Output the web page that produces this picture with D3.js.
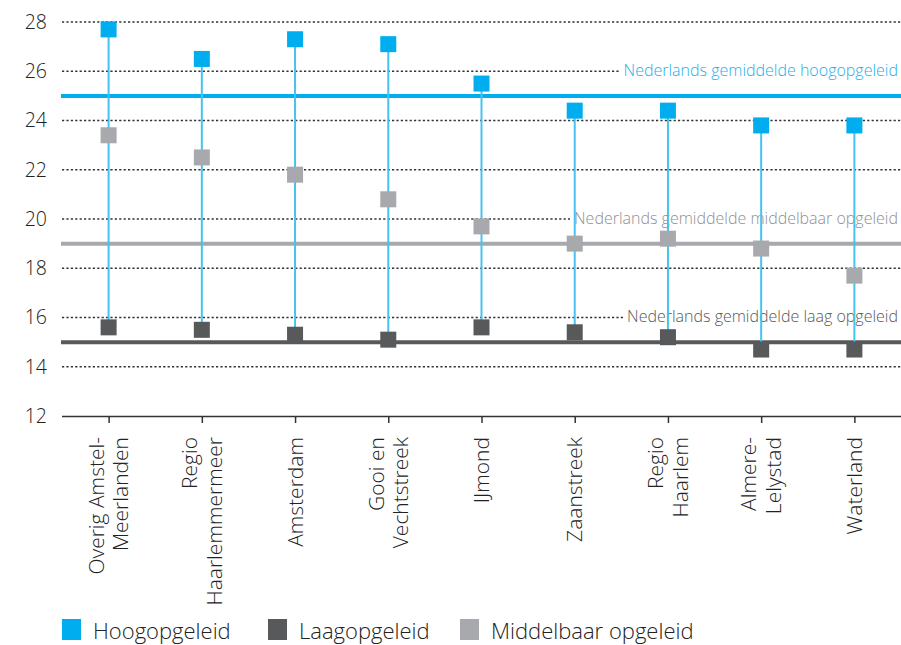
<!DOCTYPE html>
<html><head><meta charset="utf-8">
<script src="https://cdn.jsdelivr.net/npm/d3@7"></script>
<style>
body{margin:0;background:#fff;}
text{font-family:"Open Sans",Lato,sans-serif;font-weight:300;}
</style></head>
<body><svg id="c" width="901" height="645"></svg>
<script>
const categories = [["Overig Amstel-","Meerlanden"],["Regio","Haarlemmermeer"],["Amsterdam"],["Gooi en","Vechtstreek"],["IJmond"],["Zaanstreek"],["Regio","Haarlem"],["Almere-","Lelystad"],["Waterland"]];
const hoog = [27.7, 26.5, 27.3, 27.1, 25.5, 24.4, 24.4, 23.8, 23.8];
const middel = [23.4, 22.5, 21.8, 20.8, 19.7, 19.0, 19.2, 18.8, 17.7];
const laag = [15.6, 15.5, 15.3, 15.1, 15.6, 15.4, 15.2, 14.7, 14.7];
const averages = [
  {name:"Nederlands gemiddelde hoogopgeleid", value:25, labelAt:26, color:"#00AEEF", textColor:"#1AB0EA"},
  {name:"Nederlands gemiddelde middelbaar opgeleid", value:19, labelAt:20, color:"#A7A9AC", textColor:"#8E9093"},
  {name:"Nederlands gemiddelde laag opgeleid", value:15, labelAt:16, color:"#58595B", textColor:"#58595B"}
];
const yTicks = [12,14,16,18,20,22,24,26,28];
const legendItems = [{name:"Hoogopgeleid",color:"#00AEEF"},{name:"Laagopgeleid",color:"#58595B"},{name:"Middelbaar opgeleid",color:"#A7A9AC"}];

const svg = d3.select("#c");
const mLeft = 62, mRight = 901, mTop = 22, mBottom = 416;
const x = d3.scalePoint().domain(d3.range(categories.length)).range([mLeft, mRight]).padding(0.5);
const y = d3.scaleLinear().domain([12, 28]).range([mBottom, mTop]);

// grid
svg.append("g").selectAll("line").data(yTicks.filter(d=>d>12)).join("line")
  .attr("x1", mLeft).attr("x2", mRight).attr("y1", d=>y(d)).attr("y2", d=>y(d))
  .attr("stroke", "#333").attr("stroke-width", 1.3).attr("stroke-dasharray", "2.2,2.2");

// y labels
svg.append("g").selectAll("text").data(yTicks).join("text")
  .attr("x", 47).attr("y", d=>y(d)).attr("dy", "0.35em").attr("text-anchor","end")
  .attr("font-size", 19.5).attr("fill", "#222").text(d=>d);

// x axis
const xAxis = svg.append("g").attr("transform", `translate(0,${mBottom})`)
  .call(d3.axisBottom(x).tickSize(7).tickFormat(""));
xAxis.select(".domain").attr("d", `M${mLeft},0.5H${mRight}`).attr("stroke","#333").attr("stroke-width",1.5);
xAxis.selectAll(".tick line").attr("stroke","#333").attr("stroke-width",1.5);

// x labels
categories.forEach((lines, i) => {
  const n = lines.length;
  const g = svg.append("g").attr("transform", `translate(${x(i)},${mBottom+21}) rotate(-90)`);
  lines.forEach((t, j) => {
    const off = (j - (n-1)/2) * 24.5;
    g.append("text").attr("x", 0).attr("y", off).attr("dy", "0.36em")
      .attr("text-anchor","end").attr("font-size", 21).attr("fill","#222").text(t);
  });
});

// average lines
svg.append("g").selectAll("line").data(averages).join("line")
  .attr("x1", mLeft - 1).attr("x2", mRight).attr("y1", d=>y(d.value)).attr("y2", d=>y(d.value))
  .attr("stroke", d=>d.color).attr("stroke-width", 4);

// average labels with white background
const lab = svg.append("g").selectAll("g").data(averages).join("g");
lab.append("text").attr("x", 898).attr("y", d=>y(d.labelAt)).attr("dy","0.3em")
  .attr("text-anchor","end").attr("font-size", 16).attr("fill", d=>d.textColor)
  .text(d=>d.name)
  .each(function(){
    const b = this.getBBox();
    d3.select(this.parentNode).insert("rect","text").attr("x", b.x-4).attr("y", b.y+3).attr("width", b.width+8).attr("height", b.height-6).attr("fill","#fff");
  });

// stems
svg.append("g").selectAll("line").data(d3.range(categories.length)).join("line")
  .attr("x1", i=>x(i)).attr("x2", i=>x(i)).attr("y1", i=>y(hoog[i])).attr("y2", i=>y(laag[i]))
  .attr("stroke", "#45C3F0").attr("stroke-width", 2);

const ms = 16;
function markers(vals, color){
  svg.append("g").selectAll("rect").data(vals).join("rect")
    .attr("x", (d,i)=>x(i)-ms/2).attr("y", d=>y(d)-ms/2).attr("width", ms).attr("height", ms).attr("fill", color);
}
markers(middel, "#A7A9AC");
markers(laag, "#58595B");
markers(hoog, "#00AEEF");

// legend
const legX = [62, 268, 460];
const lg = svg.append("g").selectAll("g").data(legendItems).join("g")
  .attr("transform", (d,i)=>`translate(${legX[i]},619)`);
lg.append("rect").attr("width", 19).attr("height", 21).attr("fill", d=>d.color);
lg.append("text").attr("x", 31).attr("y", 20).attr("font-size", 22).attr("fill","#222").text(d=>d.name);
</script></body></html>
